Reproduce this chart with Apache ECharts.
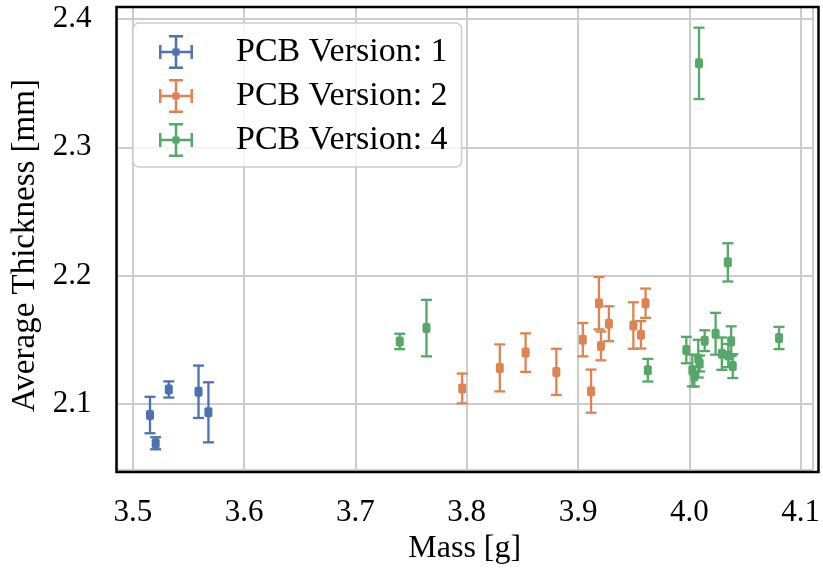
<!DOCTYPE html>
<html>
<head>
<meta charset="utf-8">
<script src="https://cdn.jsdelivr.net/npm/echarts@6/dist/echarts.min.js"></script>
<style>
html,body{margin:0;padding:0;background:#fff;}
#chart{width:823px;height:570px;}
</style>
</head>
<body>
<div id="chart"></div>
<script>
// ---- data ----
var seriesNames = ['PCB Version: 1', 'PCB Version: 2', 'PCB Version: 4'];
var seriesColors = ['#4c72b0', '#dd8452', '#55a868'];

var v1Mass  = [3.5154, 3.5205, 3.5323, 3.5590, 3.5679];
var v1Thick = [2.0915, 2.0695, 2.1114, 2.1096, 2.0936];
var v1Err   = [0.0142, 0.0047, 0.0063, 0.0204, 0.0234];

var v2Mass  = [3.7959, 3.8297, 3.8529, 3.8805, 3.9043, 3.9117, 3.9188, 3.9206, 3.9277, 3.9497, 3.9565, 3.9607];
var v2Thick = [2.1122, 2.1282, 2.1401, 2.1251, 2.1502, 2.1101, 2.1786, 2.1453, 2.1626, 2.1612, 2.1540, 2.1786];
var v2Err   = [0.0116, 0.0183, 0.0150, 0.0180, 0.0130, 0.0168, 0.0204, 0.0112, 0.0136, 0.0181, 0.0107, 0.0114];

var v4Mass  = [3.7398, 3.7638, 3.9627, 3.9973, 4.0027, 4.0045, 4.0080, 4.0087, 4.0093, 4.0138, 4.0236, 4.0292, 4.0346, 4.0350, 4.0376, 4.0390, 4.0806];
var v4Thick = [2.1488, 2.1592, 2.1264, 2.1421, 2.1262, 2.1215, 2.1354, 2.3654, 2.1316, 2.1494, 2.1548, 2.1393, 2.2104, 2.1378, 2.1490, 2.1296, 2.1515];
var v4Err   = [0.0060, 0.0220, 0.0088, 0.0103, 0.0124, 0.0078, 0.0147, 0.0278, 0.0062, 0.0081, 0.0163, 0.0126, 0.0149, 0.0090, 0.0116, 0.0093, 0.0087];

var xTicks = [3.5, 3.6, 3.7, 3.8, 3.9, 4.0, 4.1];
var yTicks = [2.1, 2.2, 2.3, 2.4];

// ---- build ----
var FONT = '"Liberation Serif", "DejaVu Serif", serif';
var GRID = { left: 116.5, right: 4.5, top: 7, bottom: 98 };
var W = 823, H = 570;
function rows(m, t, e) { return m.map(function (x, i) { return [x, t[i], e[i]]; }); }
var groups = [rows(v1Mass, v1Thick, v1Err), rows(v2Mass, v2Thick, v2Err), rows(v4Mass, v4Thick, v4Err)];

function renderErr(params, api) {
  var x = api.value(0), y = api.value(1), e = api.value(2);
  var c = api.coord([x, y]);
  var top = api.coord([x, y + e]);
  var bot = api.coord([x, y - e]);
  var col = api.visual('color');
  var capW = 5.5, lw = 2.3;
  return {
    type: 'group',
    children: [
      { type: 'line', shape: { x1: c[0], y1: top[1], x2: c[0], y2: bot[1] }, style: { stroke: col, lineWidth: lw } },
      { type: 'line', shape: { x1: c[0] - capW, y1: top[1], x2: c[0] + capW, y2: top[1] }, style: { stroke: col, lineWidth: lw } },
      { type: 'line', shape: { x1: c[0] - capW, y1: bot[1], x2: c[0] + capW, y2: bot[1] }, style: { stroke: col, lineWidth: lw } },
      { type: 'rect', shape: { x: c[0] - 4, y: c[1] - 5, width: 8, height: 10, r: 2 }, style: { fill: col } }
    ]
  };
}

function tickFmt(list) {
  return function (v) {
    for (var i = 0; i < list.length; i++) {
      if (Math.abs(v - list[i]) < 1e-6) return list[i].toFixed(1);
    }
    return '';
  };
}

var iconPath = 'path://M15.75,1h2.5v32h-2.5z M1,15.75h32v2.5h-32z M10,0h14v2.5h-14z M10,31.5h14v2.5h-14z M0,10h2.5v14h-2.5z M31.5,10h2.5v14h-2.5z M13.5,13.5h7v7h-7z';

var chart = echarts.init(document.getElementById('chart'), null, { renderer: 'canvas' });
chart.setOption({
  animation: false,
  backgroundColor: '#ffffff',
  grid: { left: GRID.left, right: GRID.right, top: GRID.top, bottom: GRID.bottom, show: false },
  graphic: [{
    type: 'rect', z: 100, silent: true,
    shape: { x: GRID.left, y: GRID.top, width: W - GRID.left - GRID.right, height: H - GRID.top - GRID.bottom },
    style: { fill: 'none', stroke: '#000', lineWidth: 2.5 }
  }],
  legend: {
    orient: 'vertical',
    left: 133, top: 23,
    padding: [12, 14, 10, 26],
    itemGap: 10,
    itemWidth: 34, itemHeight: 34,
    borderColor: '#cccccc', borderWidth: 1.5, borderRadius: 6,
    backgroundColor: 'rgba(255,255,255,0.8)',
    data: seriesNames.map(function (n) { return { name: n, icon: iconPath }; }),
    textStyle: { fontFamily: FONT, fontSize: 34, color: '#000', padding: [0, 0, 0, 38] }
  },
  xAxis: {
    type: 'value', min: 3.4853, max: 4.1111,
    minInterval: 0.1, maxInterval: 0.1, splitNumber: 6,
    name: 'Mass [g]', nameLocation: 'middle', nameGap: 59,
    nameTextStyle: { fontFamily: FONT, fontSize: 32, color: '#000' },
    axisLine: { show: false }, axisTick: { show: false },
    axisLabel: { fontFamily: FONT, fontSize: 31, color: '#000', margin: 27, formatter: tickFmt(xTicks) },
    splitLine: { show: true, lineStyle: { color: '#cccccc', width: 2 } }
  },
  yAxis: {
    type: 'value', min: 2.0486, max: 2.4093,
    minInterval: 0.1, maxInterval: 0.1, splitNumber: 4,
    name: 'Average Thickness [mm]', nameLocation: 'middle', nameGap: 73,
    nameTextStyle: { fontFamily: FONT, fontSize: 33, color: '#000', padding: [0, 14, 0, 0] },
    axisLine: { show: false }, axisTick: { show: false },
    axisLabel: { fontFamily: FONT, fontSize: 31, color: '#000', margin: 25, formatter: tickFmt(yTicks) },
    splitLine: { show: true, lineStyle: { color: '#cccccc', width: 2 } }
  },
  series: groups.map(function (g, i) {
    return {
      type: 'custom', name: seriesNames[i],
      itemStyle: { color: seriesColors[i] },
      renderItem: renderErr,
      encode: { x: 0, y: 1 },
      data: g, z: 3
    };
  })
});
</script>
</body>
</html>
